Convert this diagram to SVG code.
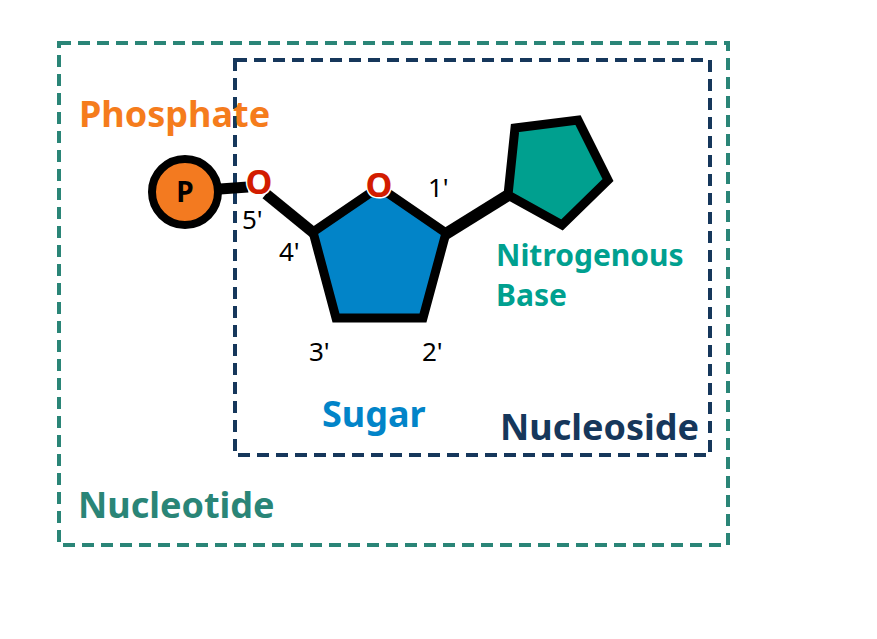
<svg xmlns="http://www.w3.org/2000/svg" width="877" height="639" viewBox="0 0 877 639">
<style>
text{font-family:"Noto Sans","Liberation Sans",sans-serif}
.lbl{font-weight:bold;font-size:36px}
.base{font-weight:bold;font-size:30px;fill:#00a08f}
.num{font-size:26px;fill:#000}
.ox{font-weight:bold;font-size:34px;fill:#d21c00;stroke:#fff;stroke-width:3;paint-order:stroke}
</style>
<rect width="877" height="639" fill="#fff"/>
<g id="nucleotide-box"><rect x="59" y="43" width="669" height="502" fill="none" stroke="#2a8577" stroke-width="4" stroke-dasharray="12,7"/><text class="lbl" x="78" y="518" fill="#2a8577">Nucleotide</text></g>
<g id="nucleoside-box"><rect x="235" y="60" width="475" height="395" fill="none" stroke="#16375b" stroke-width="4" stroke-dasharray="12,7"/><text class="lbl" x="500" y="440" fill="#16375b">Nucleoside</text></g>
<g id="connectors" stroke="#000" stroke-linecap="butt">
<line x1="220" y1="189" x2="248" y2="187" stroke-width="11"/>
<line x1="266" y1="194" x2="315" y2="234" stroke-width="11"/>
<line x1="444" y1="235" x2="510" y2="194" stroke-width="12"/>
</g>
<g id="phosphate"><circle cx="185" cy="192" r="33" fill="#f37a20" stroke="#000" stroke-width="8"/><text x="185" y="202" text-anchor="middle" font-weight="bold" font-size="28">P</text><text class="lbl" x="79" y="127" fill="#f57c1c">Phosphate</text></g>
<g id="sugar"><polygon points="379,187 446,233 423,318 336,318 313,232" fill="#0284c8" stroke="#000" stroke-width="9" stroke-linejoin="miter"/>
<ellipse cx="379" cy="185" rx="9" ry="11" fill="#fff"/>
<text class="ox" x="379" y="197" text-anchor="middle">O</text>
<text class="ox" x="259" y="194" text-anchor="middle">O</text>
<text class="num" x="242" y="229">5'</text><text class="num" x="279" y="261">4'</text><text class="num" x="309" y="361">3'</text><text class="num" x="422" y="361">2'</text><text class="num" x="428" y="197">1'</text>
<text class="lbl" x="322" y="427" fill="#0284c8">Sugar</text></g>
<g id="base"><polygon points="515,128 578,120 608,180 562,225 508,195" fill="#00a08f" stroke="#000" stroke-width="9"/><text class="base" x="496" y="266">Nitrogenous</text><text class="base" x="496" y="306">Base</text></g>
</svg>
